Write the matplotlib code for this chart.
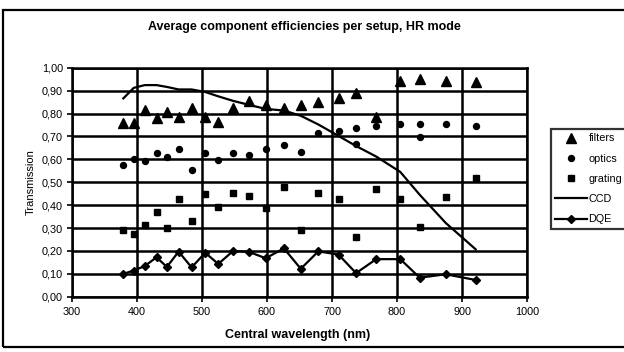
import matplotlib
matplotlib.use("Agg")
import matplotlib.pyplot as plt
from matplotlib.ticker import FuncFormatter, MultipleLocator
from matplotlib.patches import Rectangle

plt.rcParams['font.family'] = ['Liberation Sans', 'DejaVu Sans']

# setup central wavelengths (nm)
wavelength = [379, 395, 412, 430, 446, 464, 484, 505, 525, 548, 572, 598,
              626, 652, 679, 710, 737, 768, 805, 835, 875, 921]
filters = [0.757, 0.757, 0.815, 0.782, 0.808, 0.784, 0.825, 0.784, 0.764, 0.823, 0.855, 0.837,
           0.823, 0.837, 0.852, 0.866, 0.890, 0.783, 0.942, 0.951, 0.942, 0.936]
optics_wl = [379, 395, 412, 430, 446, 464, 484, 505, 525, 548, 572, 598,
             626, 652, 679, 710, 737, 737, 768, 805, 835, 835, 875, 921]
optics = [0.575, 0.600, 0.593, 0.629, 0.610, 0.645, 0.553, 0.626, 0.595, 0.626, 0.618, 0.647,
          0.664, 0.634, 0.716, 0.725, 0.738, 0.665, 0.747, 0.755, 0.755, 0.698, 0.755, 0.745]
grating = [0.291, 0.274, 0.313, 0.371, 0.299, 0.425, 0.332, 0.448, 0.391, 0.451, 0.440, 0.386,
           0.480, 0.291, 0.451, 0.425, 0.262, 0.469, 0.425, 0.306, 0.437, 0.517]
ccd = [0.866, 0.912, 0.924, 0.924, 0.916, 0.905, 0.905, 0.894, 0.875, 0.855, 0.838, 0.820,
       0.813, 0.790, 0.752, 0.702, 0.658, 0.612, 0.545, 0.445, 0.322, 0.207]
dqe = [0.100, 0.114, 0.134, 0.172, 0.130, 0.197, 0.128, 0.192, 0.143, 0.200, 0.196, 0.168,
       0.211, 0.122, 0.198, 0.184, 0.103, 0.164, 0.164, 0.083, 0.098, 0.073]

title = "Average component efficiencies per setup, HR mode"
xlabel = "Central wavelength (nm)"
ylabel = "Transmission"

W, H = 624, 352
fig = plt.figure(figsize=(W / 100, H / 100), dpi=100)
ax = fig.add_axes([72 / W, 1 - 296.7 / H, (527 - 72) / W, (296.7 - 67.7) / H])

lw_grid = 1.8
ax.set_xlim(300, 1000)
ax.set_ylim(0, 1.0)
ax.xaxis.set_major_locator(MultipleLocator(100))
ax.yaxis.set_major_locator(MultipleLocator(0.1))
ax.grid(True, color='black', linewidth=lw_grid)
ax.set_axisbelow(True)
for s in ax.spines.values():
    s.set_linewidth(lw_grid)
    s.set_color('black')
ax.yaxis.set_major_formatter(FuncFormatter(lambda v, p: f"{v:.2f}".replace('.', ',')))
ax.tick_params(axis='both', direction='out', length=3.5, width=1.2, labelsize=7.8, colors='black')
ax.tick_params(axis='x', pad=4)
ax.tick_params(axis='y', pad=3)

l_f, = ax.plot(wavelength, filters, linestyle='none', marker='^', markersize=6.5, color='black',
               label='filters')
l_o, = ax.plot(optics_wl, optics, linestyle='none', marker='o', markersize=4.3, color='black',
               label='optics')
l_g, = ax.plot(wavelength, grating, linestyle='none', marker='s', markersize=3.8, color='black',
               label='grating')
l_c, = ax.plot(wavelength, ccd, linestyle='-', linewidth=1.6, color='black', label='CCD')
l_d, = ax.plot(wavelength, dqe, linestyle='-', linewidth=1.6, marker='D', markersize=4.2,
               color='black', label='DQE')

fig.text(304 / W, 1 - 27 / H, title, ha='center', va='center', fontsize=9, fontweight='bold')
fig.text(298 / W, 1 - 335 / H, xlabel, ha='center', va='center', fontsize=9, fontweight='bold')
fig.text(31 / W, 1 - 182 / H, ylabel, ha='center', va='center', fontsize=8, rotation=90)

leg = fig.legend(handles=[l_f, l_o, l_g, l_c, l_d], loc='upper left',
                 bbox_to_anchor=(551 / W, 1 - 129 / H), frameon=True, fancybox=False,
                 edgecolor='black', fontsize=7.8, handlelength=2.9, handletextpad=0.15,
                 labelspacing=0.95, borderpad=0.4, borderaxespad=0)
leg.get_frame().set_linewidth(1.6)

# outer chart frame (extends beyond right edge)
fig.patches.append(Rectangle((3 / W, 1 - 347 / H), 640 / W, (347 - 10) / H,
                             transform=fig.transFigure, fill=False, edgecolor='black',
                             linewidth=1.6))

fig.savefig("out.png", dpi=100)
